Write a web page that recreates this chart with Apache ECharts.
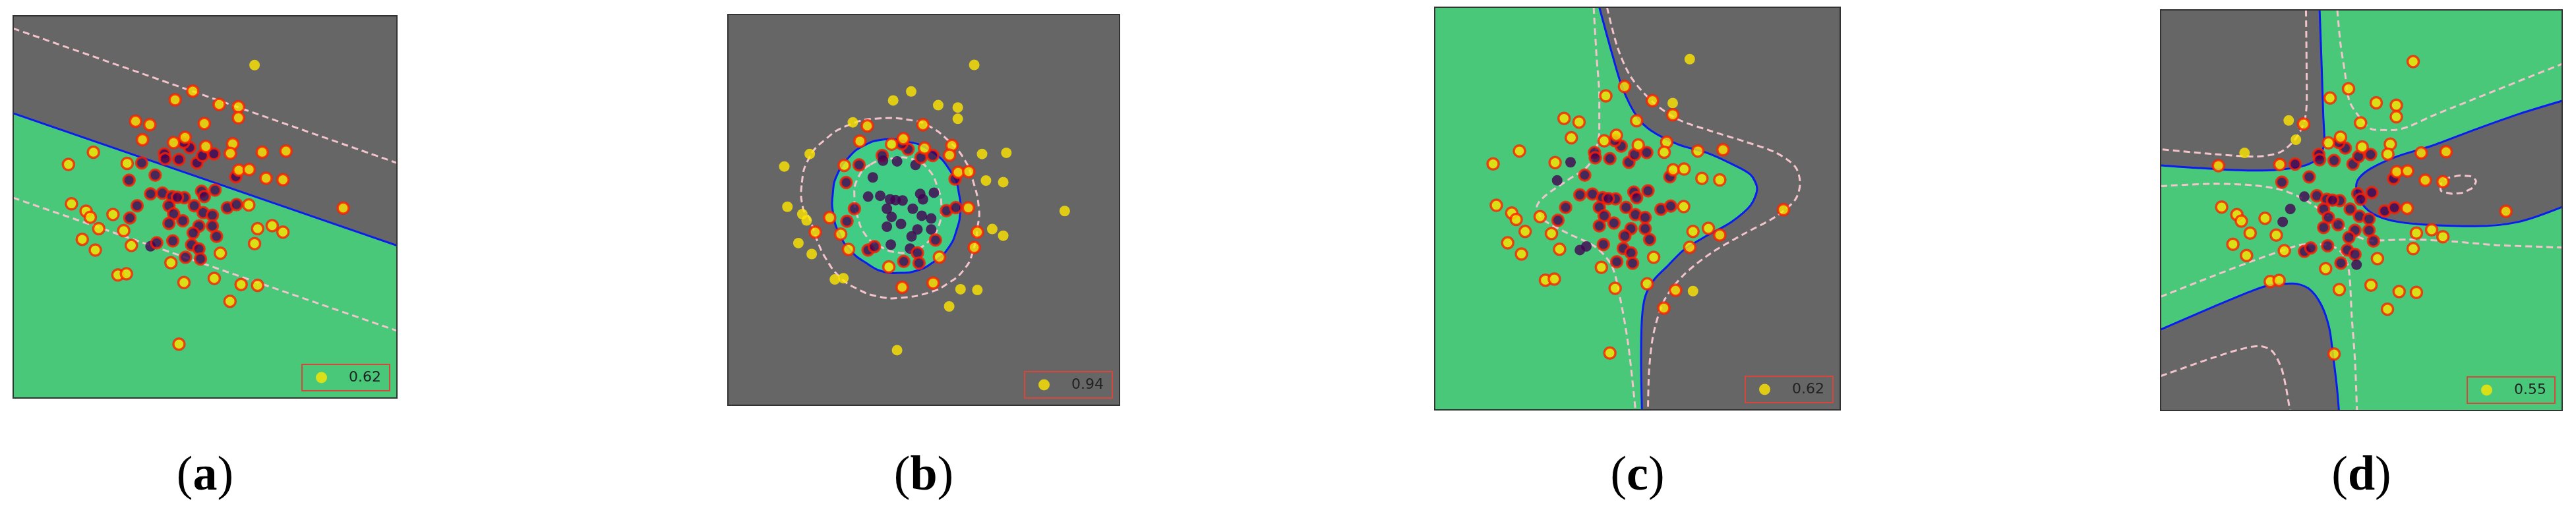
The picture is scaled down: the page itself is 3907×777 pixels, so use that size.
<!DOCTYPE html>
<html>
<head>
<meta charset="utf-8">
<script src="https://cdn.jsdelivr.net/npm/echarts@6/dist/echarts.min.js"></script>
<style>
html, body { margin: 0; padding: 0; background: #fff; }
#chart { width: 3907px; height: 777px; }
</style>
</head>
<body>
<div id="chart"></div>
<script>
var chart = echarts.init(document.getElementById('chart'));

// same samples in every panel, frame is 0..100 on both axes
var yellowX = [62.9, 46.8, 42.2, 53.7, 58.7, 58.7, 31.9, 35.6, 49.8, 33.7, 44.8, 41.8, 50.2, 57.2, 56.6, 64.9, 71.1, 20.9, 14.4, 29.7,
	58.8, 61.5, 65.9, 70.3, 86.0, 61.4, 15.2, 19.0, 20.1, 26.0, 22.3, 28.8, 63.7, 67.5, 70.3, 18.0, 30.8, 21.4, 62.9, 54.0,
	41.1, 27.3, 29.5, 44.5, 52.4, 59.4, 63.7, 56.5, 43.2];
var yellowY = [87.1, 80.3, 78.0, 76.8, 76.2, 73.3, 72.4, 71.5, 71.8, 67.6, 68.2, 66.8, 65.8, 66.5, 64.0, 64.3, 64.6, 64.3, 61.1, 61.4,
	59.6, 59.8, 57.5, 57.1, 49.7, 50.5, 50.8, 48.9, 47.3, 48.0, 44.3, 43.8, 44.3, 45.1, 43.4, 41.5, 39.9, 38.7, 40.4, 37.9,
	35.4, 32.2, 32.5, 30.2, 31.3, 29.7, 29.5, 25.3, 14.1];
var purpleX = [33.5, 37.0, 30.2, 39.4, 39.6, 43.2, 46.0, 44.4, 47.9, 49.3, 52.3, 35.8, 38.9, 41.4, 44.6, 49.1, 52.6, 49.8, 32.3, 40.6,
	47.2, 41.8, 49.5, 51.9, 30.4, 40.6, 44.2, 48.4, 51.9, 46.9, 53.0, 55.8, 58.2, 58.0, 35.8, 37.4, 41.6, 46.5, 48.4, 44.9,
	48.8, 42.8];
var purpleY = [61.5, 58.3, 57.0, 63.9, 62.6, 62.4, 65.5, 66.9, 61.5, 63.4, 63.9, 53.4, 53.6, 52.7, 52.4, 54.1, 54.4, 52.7, 50.3, 50.3,
	50.3, 48.2, 48.5, 47.8, 47.1, 45.7, 46.4, 45.0, 45.0, 43.2, 42.3, 49.8, 50.6, 57.9, 39.7, 40.6, 41.1, 40.1, 39.0, 36.8,
	36.4, 52.5];

// samples that are not support vectors (no red ring), per panel
var plainYellow = [
	[0],
	[0, 1, 2, 3, 4, 5, 6, 15, 16, 17, 18, 22, 23, 24, 26, 27, 28, 33, 34, 35, 37, 41, 42, 45, 46, 47, 48],
	[0, 4, 46],
	[6, 9, 17]
];
var plainPurple = [
	[34],
	[1, 4, 5, 8, 11, 12, 13, 14, 15, 16, 17, 19, 20, 21, 22, 23, 25, 26, 27, 28, 29, 36, 37, 41],
	[0, 2, 34, 35],
	[11, 18, 24, 40]
];

var scores = ['0.62', '0.94', '0.62', '0.55'];
var letters = ['a', 'b', 'c', 'd'];

// (a) linear
var aBoundary = [[0, 74.5], [100, 39.9]];
var aMarginUp = [[0, 96.7], [100, 61.5]];
var aMarginLow = [[0, 52.4], [100, 17.6]];

// (b) rbf
var bBoundary = [[39.7, 68.0], [43.9, 67.8], [51.5, 65.3], [57.4, 59.0], [59.1, 53.6], [59.3, 49.7], [58.6, 45.5], [56.2, 40.1],
	[52.4, 36.6], [48.1, 34.4], [44.1, 33.9], [39.7, 34.2], [35.5, 36.3], [31.3, 39.6], [28.5, 43.8], [26.9, 48.9],
	[26.8, 54.3], [27.9, 59.0], [31.0, 63.6], [35.0, 66.6]];
var bMarginOut = [[18.9, 57.0], [20.7, 63.2], [24.6, 67.8], [30.8, 71.7], [38.6, 73.4], [47.6, 72.8], [51.8, 71.2], [56.2, 67.8],
	[60.2, 63.2], [62.5, 57.7], [64.1, 50.3], [63.8, 45.9], [62.5, 39.1], [60.2, 34.6], [56.2, 31.2], [51.8, 29.0],
	[44.2, 27.5], [38.6, 27.8], [33.0, 29.8], [28.5, 32.9], [25.1, 37.4], [22.9, 41.9], [20.7, 48.1], [19.2, 50.3]];
var bMarginIn = [[36.4, 61.6], [42.3, 63.2], [47.3, 62.9], [51.2, 60.4], [53.7, 55.3], [54.5, 51.4], [54.0, 46.4], [51.5, 42.2],
	[47.3, 39.6], [43.1, 39.1], [38.6, 40.8], [35.2, 43.5], [33.0, 48.6], [32.3, 53.1], [33.0, 57.7]];

// (c) sigmoid
var cBoundary = [[40.6, 100], [43.7, 88.6], [46.4, 79.7], [49.9, 72.8], [53.3, 69.4], [60.1, 65.9], [67.0, 63.9], [73.2, 61.1],
	[77.9, 58.4], [79.5, 54.9], [77.9, 50.8], [73.2, 46.7], [67.0, 43.2], [61.5, 39.8], [57.4, 35.7], [54.0, 32.2],
	[51.9, 28.1], [51.1, 22.6], [50.9, 12.3], [51.1, 0]];
var cMarginOut = [[42.5, 100], [45.1, 90.0], [48.5, 82.5], [54.0, 76.3], [60.1, 72.1], [67.7, 69.4], [76.6, 66.6], [84.1, 63.9],
	[88.9, 60.4], [90.1, 56.3], [88.9, 52.2], [84.1, 48.0], [76.6, 43.9], [68.4, 39.1], [61.5, 33.6], [56.7, 27.4],
	[54.0, 19.1], [52.9, 10.2], [52.6, 0]];
var cMarginIn = [[39.2, 100], [39.9, 88.0], [40.6, 77.6], [40.6, 69.4], [38.2, 61.1], [32.7, 57.0], [27.3, 53.2], [25.2, 50.4],
	[26.6, 47.4], [32.7, 43.9], [39.6, 40.5], [43.7, 35.7], [45.8, 27.4], [47.8, 15.7], [49.5, 0]];

// (d) poly
var dBoundTL = [[39.6, 100], [40.1, 86.1], [40.5, 73.8], [40.8, 67.3], [39.4, 63.2], [36.1, 61.2], [29.6, 60.1], [23.1, 59.9],
	[13.4, 60.3], [0, 61.2]];
var dBoundBL = [[0, 20.2], [13.4, 26.0], [23.1, 30.0], [27.7, 31.4], [32.9, 31.7], [36.8, 30.5], [40.0, 26.4], [42.0, 20.6],
	[42.9, 14.1], [43.9, 5.9], [44.4, 0]];
var dBoundR = [[100, 77.3], [89.2, 74.0], [78.2, 70.1], [67.3, 66.0], [59.1, 63.5], [52.5, 60.5], [49.5, 58.1], [48.7, 55.9],
	[49.2, 53.7], [50.9, 50.7], [54.1, 48.5], [59.1, 47.1], [67.3, 46.3], [78.2, 46.0], [89.2, 47.1], [100, 50.8]];
var dMarginTL = [[36.2, 100], [36.4, 77.9], [35.8, 72.2], [33.5, 67.7], [29.6, 64.4], [23.1, 63.4], [13.4, 64.0], [0, 65.2]];
var dMarginTR = [[44.0, 100], [44.8, 91.5], [45.9, 84.4], [47.0, 77.3], [49.8, 72.9], [53.0, 70.1], [58.0, 70.0], [61.8, 70.9],
	[67.3, 73.4], [72.7, 75.6], [83.7, 80.0], [91.9, 83.3], [100, 86.5]];
var dMarginMid = [[0, 56.0], [13.4, 56.6], [23.1, 56.2], [30.3, 55.0], [36.1, 52.5], [42.6, 48.0], [48.0, 44.0], [52.5, 42.4],
	[61.8, 42.7], [72.7, 42.2], [83.7, 41.3], [100, 40.7]];
var dMarginLow = [[0, 28.4], [13.4, 33.7], [23.1, 37.4], [30.3, 39.9], [36.1, 41.5], [41.5, 41.4], [45.0, 39.5], [46.8, 35.5],
	[47.6, 23.5], [48.4, 12.5], [48.9, 0]];
var dMarginBL = [[0, 8.6], [13.4, 13.3], [19.9, 15.3], [24.4, 16.1], [27.7, 14.9], [30.0, 10.8], [31.2, 5.9], [32.2, 0]];
var dLoop = [[69.7, 55.3], [70.6, 57.5], [72.7, 58.3], [75.5, 58.6], [78.2, 57.8], [78.2, 56.4], [76.6, 55.0], [73.8, 54.2], [70.8, 54.5]];

var W = 3907, H = 777;
var frames = [[20, 24, 582, 580], [1104, 22, 594, 593], [2176, 11, 615, 611], [3277, 15, 609, 608]];
var GREEN = '#49c87a', GRAY = '#666666', BLUE = '#0b1cf0', PINK = '#f3c4cc';
var YELLOW = '#ffe600', PURPLE = '#440154', RING = '#ff1e00';

function shape(i, pts, st, smooth) {
	return {
		type: 'custom', xAxisIndex: i, yAxisIndex: i, z: 1, silent: true, clip: true, data: [0],
		renderItem: function(params, api) {
			return {
				type: 'polygon',
				shape: { points: pts.map(function(p) { return api.coord(p); }), smooth: smooth || 0 },
				style: st
			};
		}
	};
}

function curve(i, pts, dashed) {
	return {
		type: 'line', xAxisIndex: i, yAxisIndex: i, z: 2, silent: true, smooth: 0.3,
		showSymbol: false, symbol: 'none', data: pts,
		lineStyle: dashed ? { color: PINK, width: 3, type: [10, 6] } : { color: BLUE, width: 3 }
	};
}

function points(i) {
	var data = [];
	purpleX.forEach(function(x, k) {
		var sv = plainPurple[i].indexOf(k) < 0;
		data.push({ value: [x, purpleY[k]], symbolSize: sv ? 17 : 16,
			itemStyle: { color: PURPLE, borderColor: RING, borderWidth: sv ? 3.5 : 0 } });
	});
	yellowX.forEach(function(x, k) {
		var sv = plainYellow[i].indexOf(k) < 0;
		data.push({ value: [x, yellowY[k]], symbolSize: sv ? 17 : 16,
			itemStyle: { color: YELLOW, borderColor: RING, borderWidth: sv ? 3.5 : 0 } });
	});
	return { type: 'scatter', name: scores[i], xAxisIndex: i, yAxisIndex: i, z: 3, silent: true, data: data };
}

var series = [];
// (a)
series.push(shape(0, [[0, 100]].concat(aBoundary, [[100, 100]]), { fill: GRAY }));
series.push(curve(0, aMarginUp, true), curve(0, aMarginLow, true), curve(0, aBoundary, false));
// (b)
series.push(shape(1, bBoundary, { fill: '#40cc84', stroke: BLUE, lineWidth: 3 }, 0.5));
series.push(shape(1, bMarginOut, { fill: null, stroke: PINK, lineWidth: 3, lineDash: [10, 6] }, 0.5));
series.push(shape(1, bMarginIn, { fill: null, stroke: PINK, lineWidth: 3, lineDash: [10, 6] }, 0.5));
// (c)
series.push(shape(2, cBoundary.concat([[100, 0], [100, 100]]), { fill: GRAY }));
series.push(curve(2, cMarginOut, true), curve(2, cMarginIn, true), curve(2, cBoundary, false));
// (d)
series.push(shape(3, dBoundTL.concat([[0, 100]]), { fill: GRAY }));
series.push(shape(3, dBoundBL.concat([[0, 0]]), { fill: GRAY }));
series.push(shape(3, dBoundR, { fill: GRAY }));
series.push(shape(3, dLoop, { fill: null, stroke: PINK, lineWidth: 3, lineDash: [10, 6] }, 0.6));
series.push(curve(3, dMarginTL, true), curve(3, dMarginTR, true), curve(3, dMarginMid, true),
	curve(3, dMarginLow, true), curve(3, dMarginBL, true));
series.push(curve(3, dBoundTL, false), curve(3, dBoundBL, false), curve(3, dBoundR, false));
for (var i = 0; i < 4; i++) series.push(points(i));

var bases = [GREEN, GRAY, GREEN, GREEN];

var option = {
	animation: false,
	backgroundColor: '#fff',
	grid: frames.map(function(f, i) {
		return { left: f[0], top: f[1], width: f[2], height: f[3], show: true,
			backgroundColor: bases[i], borderWidth: 0 };
	}),
	xAxis: frames.map(function(f, i) {
		return { gridIndex: i, type: 'value', min: 0, max: 100, show: false };
	}),
	yAxis: frames.map(function(f, i) {
		return { gridIndex: i, type: 'value', min: 0, max: 100, show: false };
	}),
	legend: frames.map(function(f, i) {
		return {
			right: W - (f[0] + f[2]) + 11, bottom: H - (f[1] + f[3]) + 11,
			selectedMode: false, padding: [9, 13, 9, 21],
			borderColor: '#d5473c', borderWidth: 2,
			itemWidth: 17, itemHeight: 17,
			textStyle: { fontFamily: 'DejaVu Sans', fontSize: 22, color: '#222', padding: [0, 0, 0, 28] },
			data: [{ name: scores[i], icon: 'circle', itemStyle: { color: YELLOW, borderWidth: 0 } }]
		};
	}),
	graphic: frames.map(function(f, i) {
		return { type: 'rect', z: 100, silent: true,
			shape: { x: f[0], y: f[1], width: f[2], height: f[3] },
			style: { fill: null, stroke: '#333', lineWidth: 2 } };
	}).concat(frames.map(function(f, i) {
		return { type: 'text', z: 100, silent: true, x: f[0] + f[2] / 2, y: 724,
			style: {
				text: '{p|(}{b|' + letters[i] + '}{p|)}', align: 'center', verticalAlign: 'middle',
				rich: {
					p: { fontFamily: 'Liberation Serif', fontSize: 74, fill: '#000' },
					b: { fontFamily: 'Liberation Serif', fontSize: 74, fontWeight: 'bold', fill: '#000' }
				}
			} };
	})),
	series: series
};

chart.setOption(option);
</script>
</body>
</html>
